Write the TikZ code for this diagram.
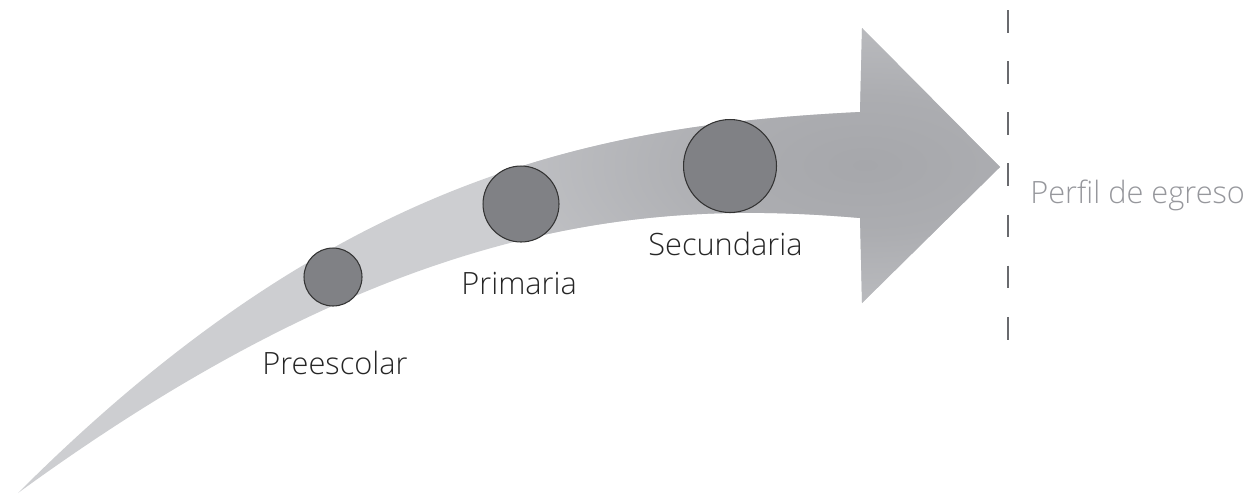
\documentclass[tikz,border=0pt]{standalone}
\usepackage{fontspec}
\setmainfont{Open Sans}[UprightFont=* Light]
\usepackage{tikz}
\usetikzlibrary{positioning}
\usetikzlibrary{shadings}
\definecolor{bandlight}{RGB}{205,206,209}
\definecolor{headgray}{RGB}{166,167,171}
\definecolor{stagegray}{RGB}{128,129,133}
\definecolor{textgray}{RGB}{150,151,156}
\definecolor{dashgray}{RGB}{105,106,110}
\pgfdeclareradialshading{headglow}{\pgfpoint{0bp}{0bp}}{color(0bp)=(headgray); color(10bp)=(headgray!85!bandlight); color(25bp)=(headgray!35!bandlight); color(50bp)=(bandlight)}
\tikzstyle{stage}=[circle,fill=stagegray,draw=black!80,line width=0.6pt,inner sep=0pt]
\tikzstyle{stagelabel}=[anchor=base west,inner sep=0pt,text=black!85,font=\fontsize{17.5}{21}\selectfont]
\tikzstyle{goallabel}=[stagelabel,text=textgray]
\tikzstyle{divider}=[draw=dashgray,line width=1.1pt,dash pattern=on 13pt off 16.1pt]

\begin{document}
\begin{tikzpicture}[x=0.02cm, y=-0.02cm]

    \useasboundingbox (0,0) rectangle (1256,495);

    % curved band with the arrow head
    \def\band{(18,493) .. controls (338,173) and (600,125) .. (860,112) -- (862,28) -- (1000,167) -- (862,303) -- (860,218) .. controls (650,200) and (398,216) .. (18,493) -- cycle}
    \fill[bandlight] \band;
    \begin{scope}
        \clip \band;
        \shade[shading=headglow] (865,165) ellipse (360 and 170);
    \end{scope}

    % stages along the band
    \foreach \x/\y/\d/\name in { 333/277/1.16/pre, 521/204/1.52/pri, 730/166/1.86/sec }
        \node[stage, minimum size=\d cm] (\name) at (\x,\y) {};

    \foreach \x/\y/\name/\txt in { 262/374/Lpre/Preescolar, 461/294/Lpri/Primaria, 648/255/Lsec/Secundaria }
        \node[stagelabel] (\name) at (\x,\y) {\txt};

    % end line
    \coordinate (gtop) at (1008,10);
    \coordinate (gbot) at (1008,342);
    \path[divider] (gtop) -- (gbot);
    \node[goallabel] (goal) at (1030,203) {Perfil de egreso};

\end{tikzpicture}
\end{document}
